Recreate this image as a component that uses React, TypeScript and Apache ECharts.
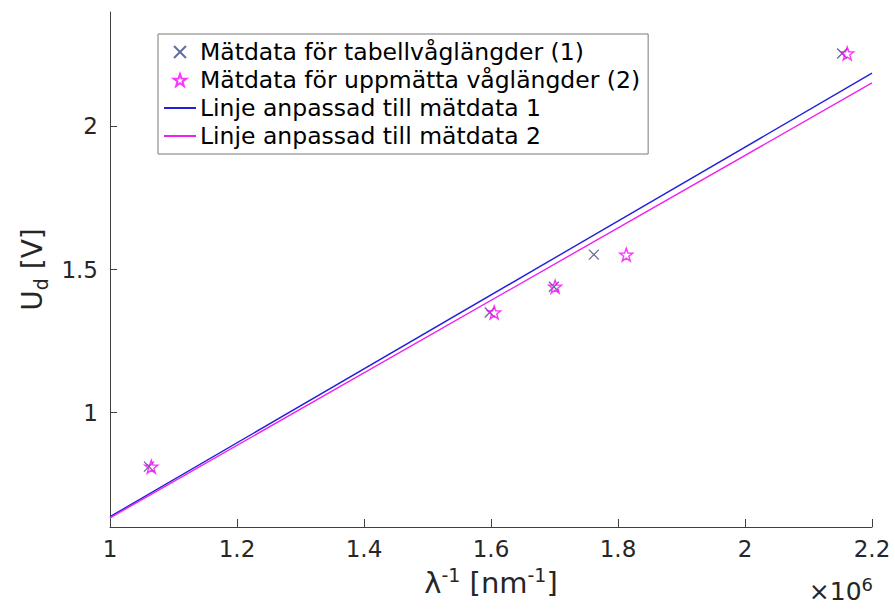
import React, { useEffect, useRef } from "react";
import * as echarts from "echarts";

// Measured data (x in units of 1e6 m^-1 as shown on the axis, y in volts)
const xTable = [1.0614, 1.598, 1.699, 1.762, 2.153];
const yTable = [0.811, 1.35, 1.44, 1.552, 2.255];
const xMeasured = [1.065, 1.605, 1.701, 1.813, 2.161];
const yMeasured = [0.811, 1.35, 1.44, 1.552, 2.255];

// Fitted lines, read at the ends of the x range
const fit1X = [1, 2.2];
const fit1Y = [0.636, 2.186];
const fit2X = [1, 2.2];
const fit2Y = [0.632, 2.152];

const yTicks = [1, 1.5, 2];

const names = [
  "Mätdata för tabellvåglängder (1)",
  "Mätdata för uppmätta våglängder (2)",
  "Linje anpassad till mätdata 1",
  "Linje anpassad till mätdata 2",
];

const FONT = "'DejaVu Sans', 'Noto Sans', sans-serif";
const CROSS = "path://M0,0L10,10M10,0L0,10";
const STAR =
  "path://M10,0L12.35,6.76L19.51,6.91L13.8,11.24L15.88,18.09L10,14L4.12,18.09L6.2,11.24L0.49,6.91L7.65,6.76Z";

const zip = (xs: number[], ys: number[]) => xs.map((x, i) => [x, ys[i]]);

export default function App() {
  const ref = useRef<HTMLDivElement>(null);
  useEffect(() => {
    if (!ref.current) return;
    const chart = echarts.init(ref.current, null, { renderer: "svg" });
    const axisColor = "#404040";
    const hiddenSymbol = { color: "transparent", borderColor: "transparent", borderWidth: 0, opacity: 0 };
    chart.setOption({
      animation: false,
      backgroundColor: "#fff",
      grid: { left: 110, top: 12, right: 23, bottom: 85 },
      xAxis: {
        type: "value",
        min: 1,
        max: 2.2,
        interval: 0.2,
        name: "{a|λ}{s|-1}{a| [nm}{s|-1}{a|]}",
        nameLocation: "middle",
        nameGap: 38,
        nameTextStyle: {
          rich: {
            a: { fontSize: 29, fontFamily: FONT, color: "#262626", lineHeight: 36 },
            s: { fontSize: 19, fontFamily: FONT, color: "#262626", verticalAlign: "top", lineHeight: 20 },
          },
        },
        axisLine: { show: true, lineStyle: { color: axisColor, width: 1 } },
        axisTick: { show: true, inside: true, length: 8, lineStyle: { color: axisColor } },
        axisLabel: {
          fontSize: 23,
          fontFamily: FONT,
          color: "#262626",
          margin: 10,
          formatter: (v: number) => String(Math.round(v * 10) / 10),
        },
        splitLine: { show: false },
      },
      yAxis: {
        type: "value",
        min: 0.6,
        max: 2.4,
        name: "{a|U}{b|d}{a| [V]}",
        nameLocation: "middle",
        nameGap: 58,
        nameRotate: 90,
        nameTextStyle: {
          rich: {
            a: { fontSize: 28, fontFamily: FONT, color: "#262626", lineHeight: 36 },
            b: { fontSize: 19, fontFamily: FONT, color: "#262626", verticalAlign: "bottom", lineHeight: 19 },
          },
        },
        axisLine: { show: true, lineStyle: { color: axisColor, width: 1 } },
        axisTick: { show: true, inside: true, length: 7, customValues: yTicks, lineStyle: { color: axisColor } },
        axisLabel: {
          fontSize: 23,
          fontFamily: FONT,
          color: "#262626",
          margin: 12,
          customValues: yTicks,
          formatter: (v: number) => String(v),
        },
        splitLine: { show: false },
      },
      legend: {
        orient: "vertical",
        left: 158,
        top: 34,
        data: [
          { name: names[0] },
          { name: names[1] },
          { name: names[2], itemStyle: hiddenSymbol },
          { name: names[3], itemStyle: hiddenSymbol },
        ],
        itemWidth: 32,
        itemHeight: 12,
        itemGap: 4,
        padding: [6, 8, 6, 5],
        borderColor: "#7a7a7a",
        borderWidth: 1,
        backgroundColor: "#fff",
        textStyle: { fontSize: 23.5, fontFamily: FONT, color: "#000", lineHeight: 24, padding: [0, 0, 0, -1] },
      },
      graphic: [
        {
          type: "text",
          right: 22,
          top: 575,
          style: {
            text: "{a|×10}{s|6}",
            rich: {
              a: { fontSize: 25, fontFamily: FONT, fill: "#262626", lineHeight: 32 },
              s: { fontSize: 18, fontFamily: FONT, fill: "#262626", verticalAlign: "top", lineHeight: 18 },
            },
          },
        },
      ],
      series: [
        {
          name: names[0],
          type: "scatter",
          data: zip(xTable, yTable),
          symbol: CROSS,
          symbolSize: 10,
          itemStyle: { color: "transparent", borderColor: "#3a4a85", borderWidth: 1.3 },
          z: 3,
        },
        {
          name: names[1],
          type: "scatter",
          data: zip(xMeasured, yMeasured),
          symbol: STAR,
          symbolSize: 13,
          itemStyle: { color: "transparent", borderColor: "#ff00ff", borderWidth: 1.4 },
          z: 4,
        },
        {
          name: names[2],
          type: "line",
          data: zip(fit1X, fit1Y),
          symbol: "none",
          lineStyle: { color: "#2020d8", width: 1.4 },
          itemStyle: { color: "#2020d8" },
        },
        {
          name: names[3],
          type: "line",
          data: zip(fit2X, fit2Y),
          symbol: "none",
          lineStyle: { color: "#f020f0", width: 1.4 },
          itemStyle: { color: "#f020f0" },
        },
      ],
    });
    return () => chart.dispose();
  }, []);
  return <div ref={ref} style={{ width: 895, height: 612, position: "absolute", left: 0, top: 0 }} />;
}
